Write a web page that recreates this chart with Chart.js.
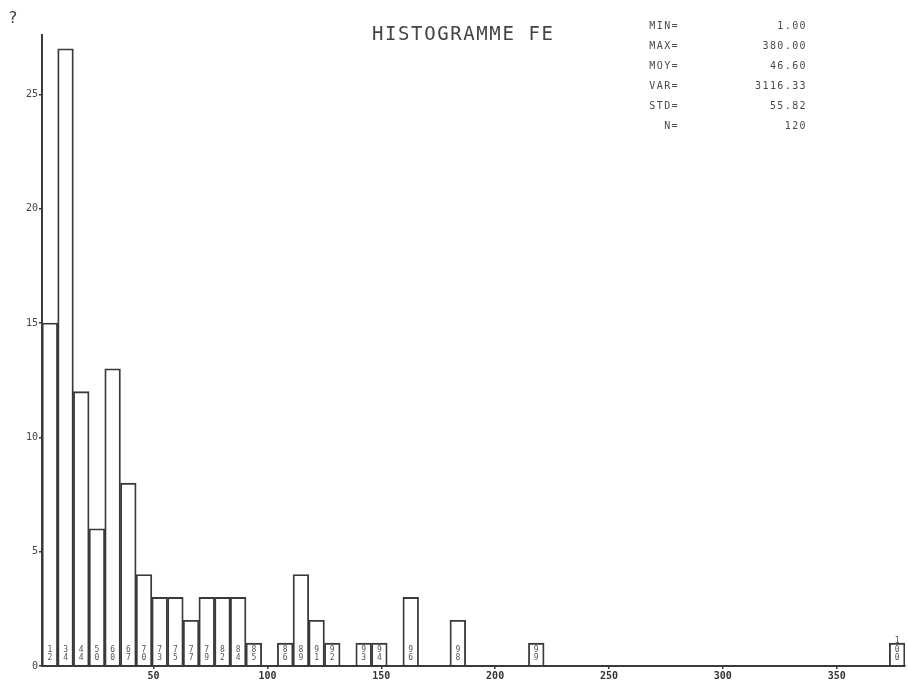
<!DOCTYPE html>
<html><head><meta charset="utf-8">
<script src="https://cdn.jsdelivr.net/npm/chart.js@4/dist/chart.umd.min.js"></script>
<style>html,body{margin:0;padding:0;background:#fff;}canvas{display:block;}</style>
</head><body>
<canvas id="c" width="908" height="683"></canvas>
<script>
// ---- data ----
const binMin = 1;
const binMax = 380;
const counts = [15,27,12,6,13,8,4,3,3,2,3,3,3,1,0,1,4,2,1,0,1,1,0,3,0,0,2,0,0,0,0,1,
  0,0,0,0,0,0,0,0,0,0,0,0,0,0,0,0,0,0,0,0,0,0,1];
const cumLabels = ['12','34','44','50','60','67','70','73','75','77','79','82','84','85','','86','89','91','92','','93','94','','96','','','98','','','','','99',
  '','','','','','','','','','','','','','','','','','','','','','','100'];
const yTicks = [0,5,10,15,20,25];
const xTicks = [50,100,150,200,250,300,350];
const titleText = 'HISTOGRAMME FE';
const statNames = ['MIN=','MAX=','MOY=','VAR=','STD=','N='];
const statValues = ['1.00','380.00','46.60','3116.33','55.82','120'];

const binWidth = (binMax - binMin) / counts.length;
const points = counts.map((c, i) => ({x: binMin + binWidth * (i + 0.5), y: c}));

const INK = '#3a3a3a';
const MONO = '"DejaVu Sans Mono", "Liberation Mono", monospace';

const overlay = {
  id: 'overlay',
  afterDatasetsDraw(chart) {
    const ctx = chart.ctx;
    const meta = chart.getDatasetMeta(0);
    const yBase = chart.scales.y.getPixelForValue(0);
    ctx.save();
    ctx.font = '8px ' + MONO;
    ctx.fillStyle = '#555';
    ctx.textAlign = 'center';
    ctx.textBaseline = 'middle';
    meta.data.forEach((el, i) => {
      const s = cumLabels[i];
      if (!s) return;
      const n = s.length;
      for (let k = 0; k < n; k++) {
        const ch = s[n - 1 - k];
        ctx.fillText(ch, el.x, yBase - 8 - k * 8.5);
      }
    });
    ctx.restore();
  },
  afterDraw(chart) {
    const ctx = chart.ctx;
    ctx.save();
    ctx.fillStyle = '#444';
    ctx.textBaseline = 'alphabetic';
    ctx.font = '16px ' + MONO;
    ctx.textAlign = 'left';
    ctx.fillText('?', 8, 23);
    ctx.font = '19px ' + MONO;
    ctx.letterSpacing = '1.6px';
    ctx.fillText(titleText, 372, 40);
    ctx.font = '10px ' + MONO;
    ctx.letterSpacing = '1.4px';
    ctx.fillStyle = '#4a4a4a';
    statNames.forEach((t, i) => {
      const y = 29 + i * 20;
      ctx.textAlign = 'right';
      ctx.fillText(t, 679, y);
      ctx.fillText(statValues[i], 807, y);
    });
    ctx.restore();
  }
};

new Chart(document.getElementById('c'), {
  type: 'bar',
  data: {
    datasets: [{
      data: points,
      backgroundColor: 'rgba(255,255,255,0)',
      borderColor: INK,
      borderWidth: 1.2,
      barPercentage: 1,
      categoryPercentage: 1
    }]
  },
  options: {
    responsive: false,
    animation: false,
    events: [],
    layout: {padding: {top: 35, right: 3, left: 0, bottom: 0}},
    plugins: {legend: {display: false}, tooltip: {enabled: false}, title: {display: false}},
    scales: {
      x: {
        type: 'linear',
        min: binMin,
        max: binMax,
        offset: false,
        afterBuildTicks(scale) { scale.ticks = xTicks.map(v => ({value: v})); },
        afterFit(scale) { scale.height = 17; },
        grid: {offset: false, drawOnChartArea: false, drawTicks: true, tickLength: 3, color: INK, lineWidth: 1.5},
        border: {display: true, color: INK, width: 2},
        ticks: {color: '#333', padding: 1, maxRotation: 0, font: {family: MONO, size: 10, weight: 'bold'}}
      },
      y: {
        min: 0,
        max: 27.6,
        afterBuildTicks(scale) { scale.ticks = yTicks.map(v => ({value: v})); },
        afterFit(scale) { scale.width = 42; },
        grid: {drawOnChartArea: false, drawTicks: true, tickLength: 3, color: INK, lineWidth: 1.5},
        border: {display: true, color: INK, width: 2},
        ticks: {color: '#444', padding: 1, font: {family: MONO, size: 10}}
      }
    }
  },
  plugins: [overlay]
});
</script>
</body></html>
